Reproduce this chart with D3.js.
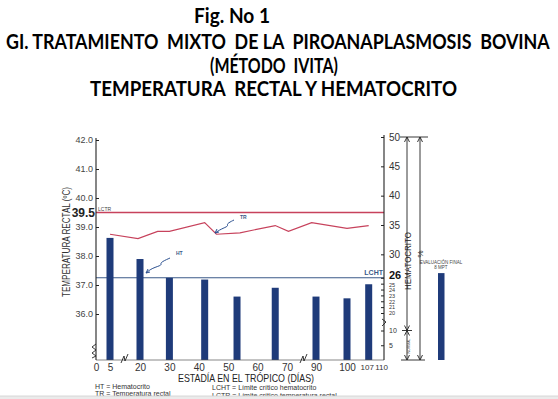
<!DOCTYPE html>
<html>
<head>
<meta charset="utf-8">
<script src="https://cdn.jsdelivr.net/npm/d3@7"></script>
<style>
  body { margin: 0; background: #fff; }
  svg text { font-family: "Liberation Sans", Arial, sans-serif; }
  .ttl { font-family: Lato, "Open Sans", sans-serif !important; font-weight: bold; fill: #000; }
</style>
</head>
<body>
<svg id="chart" width="558" height="399"></svg>
<script>
// data
var days = [5, 20, 30, 42, 53, 66, 90, 100, 107];
var hematocrito = [32.8, 29.2, 26.0, 25.7, 22.8, 24.3, 22.8, 22.5, 24.9];
var finalLabel = ["EVALUACIÓN FINAL", "8 MPT"];
var finalHt = 26.8;
var trDays = [5, 19, 26, 30, 42, 46, 54, 66, 71, 87, 100, 107];
var trValues = [38.75, 38.6, 38.85, 38.85, 39.15, 38.75, 38.8, 39.05, 38.85, 39.15, 38.95, 39.05];
var xTicks = [0, 5, 20, 30, 40, 50, 60, 70, 90, 100, 107, 110];
var tempTicks = [36, 37, 38, 39, 40, 41, 42];
var htTicks = [5, 10, 20, 21, 22, 23, 24, 25, 26, 30, 35, 40, 45, 50];
var lctr = 39.5, lcht = 26;

var svg = d3.select("#chart");

// broken axes -> piecewise linear scales
var x = d3.scaleLinear().domain([0, 5, 20, 70, 90, 110]).range([96, 110, 140, 287, 316, 378]);
var yT = d3.scaleLinear().domain([36, 42]).range([314, 140]);
var yH = d3.scaleLinear().domain([0, 10, 20, 50]).range([360, 330.5, 313, 137]);

var left = 96, right = 384, base = 360;
var navy = "#1f3b7a", red = "#c7425c";

// TITLES (squeezed horizontally to the widths of the scan)
var titles = [
  { t: "Fig. No 1", x: 194, y: 23, w: 76, s: 20 },
  { t: "GI. TRATAMIENTO  MIXTO  DE LA  PIROANAPLASMOSIS  BOVINA", x: 6, y: 49, w: 544, s: 20 },
  { t: "(MÉTODO  IVITA)", x: 210, y: 73, w: 128, s: 20 },
  { t: "TEMPERATURA  RECTAL Y HEMATOCRITO", x: 90, y: 96, w: 367, s: 20 }
];
svg.selectAll("text.ttl").data(titles).enter().append("text")
    .attr("class", "ttl")
    .attr("xml:space", "preserve")
    .style("white-space", "pre")
    .style("font-size", function (d) { return d.s + "px"; })
    .text(function (d) { return d.t; })
    .each(function (d) {
        var len = this.getComputedTextLength();
        d3.select(this).attr("transform", "translate(" + d.x + "," + d.y + ") scale(" + (d.w / len) + ",1)");
    });

// reference lines
svg.append("line")
    .attr("x1", left).attr("x2", right)
    .attr("y1", yT(lctr)).attr("y2", yT(lctr))
    .attr("stroke", red).attr("stroke-width", 1.4);

svg.append("line")
    .attr("x1", left).attr("x2", right)
    .attr("y1", yH(lcht)).attr("y2", yH(lcht))
    .attr("stroke", "#3b5a88").attr("stroke-width", 1.1);

// BARS (hematocrito)
svg.selectAll(".bar")
    .data(days)
    .enter()
    .append("rect")
    .attr("class", "bar")
    .attr("x", function (d) { return x(d) - 3.5; })
    .attr("y", function (d, i) { return yH(hematocrito[i]); })
    .attr("width", 7)
    .attr("height", function (d, i) { return base - yH(hematocrito[i]); })
    .attr("fill", navy);

var finalX = x(110) + 63;
svg.append("rect")
    .attr("x", finalX - 3)
    .attr("y", yH(finalHt))
    .attr("width", 6.5)
    .attr("height", base - yH(finalHt))
    .attr("fill", navy);

svg.selectAll(".finlab").data(finalLabel).enter().append("text")
    .attr("class", "finlab")
    .attr("x", finalX)
    .attr("y", function (d, i) { return yH(finalHt) - 9 + i * 4.5; })
    .attr("text-anchor", "middle")
    .style("font-size", "4.5px")
    .attr("fill", "#444")
    .text(function (d) { return d; });

// TR line
var trLine = d3.line()
    .x(function (d) { return x(d[0]); })
    .y(function (d) { return yT(d[1]); });

svg.append("path")
    .datum(d3.zip(trDays, trValues))
    .attr("d", trLine)
    .attr("fill", "none")
    .attr("stroke", red)
    .attr("stroke-width", 1.2);

// AXES
var gx = svg.append("g")
    .attr("transform", "translate(0," + base + ")")
    .call(d3.axisBottom(x).tickValues(xTicks).tickSize(0).tickPadding(4));
gx.select("path.domain").remove();
gx.selectAll("text")
    .attr("fill", "#333")
    .style("font-size", function (d) { return d >= 107 ? "8px" : "10px"; })
    .attr("dx", function (d) { return d == 107 ? "-2px" : (d == 110 ? "3px" : 0); });

svg.append("line")
    .attr("x1", left).attr("x2", right)
    .attr("y1", base).attr("y2", base)
    .attr("stroke", "#555").attr("stroke-width", 0.7);

var gy = svg.append("g")
    .attr("transform", "translate(" + left + ",0)")
    .call(d3.axisLeft(yT).tickValues(tempTicks).tickFormat(d3.format(".1f")).tickSizeInner(-3).tickSizeOuter(0).tickPadding(3));
gy.select("path.domain").remove();
gy.selectAll(".tick line").attr("stroke", "#222");
gy.selectAll("text").attr("fill", "#444").style("font-size", "9px");

svg.append("line")
    .attr("x1", left).attr("x2", left)
    .attr("y1", yT(42) - 2).attr("y2", base)
    .attr("stroke", "#222").attr("stroke-width", 1.1);

var gr = svg.append("g")
    .attr("transform", "translate(" + right + ",0)")
    .call(d3.axisRight(yH).tickValues(htTicks).tickSizeInner(-3).tickSizeOuter(0).tickPadding(5));
gr.select("path.domain").remove();
gr.selectAll(".tick line").attr("stroke", "#222");
gr.selectAll("text")
    .style("font-size", function (d) {
        if (d == 26) return "11px";
        if (d >= 20 && d <= 25) return "5.5px";
        if (d <= 10) return "7px";
        return "10px";
    })
    .style("font-weight", function (d) { return d == 26 ? "bold" : "normal"; })
    .attr("fill", function (d) { return d == 26 ? "#111" : "#333"; })
    .attr("dy", function (d) { return d == 26 ? "0.1em" : (d == 25 ? "0.55em" : "0.32em"); });

svg.append("line")
    .attr("x1", right).attr("x2", right)
    .attr("y1", yH(50) - 2).attr("y2", base)
    .attr("stroke", "#222").attr("stroke-width", 1.1);

// axis breaks
var brk = d3.line();
[124, 303].forEach(function (bx) {
    svg.append("path")
        .attr("d", brk([[bx - 3, base + 3], [bx, base - 4], [bx + 1, base + 1], [bx + 4, base - 6]]))
        .attr("fill", "none").attr("stroke", "#222").attr("stroke-width", 0.9);
});
svg.append("path")
    .attr("d", brk([[left, 344], [left - 4, 347], [left, 350], [left - 4, 353], [left, 356], [left - 4, 358]]))
    .attr("fill", "none").attr("stroke", "#222").attr("stroke-width", 0.9);
svg.append("path")
    .attr("d", brk([[right - 2, 326], [right + 2, 322], [right - 2, 319]]))
    .attr("fill", "none").attr("stroke", "#222").attr("stroke-width", 0.9);

// LABELS
svg.append("text")
    .attr("x", left - 1).attr("y", yT(lctr) + 4.5)
    .attr("text-anchor", "end")
    .style("font-size", "12px").style("font-weight", "bold")
    .attr("fill", "#222")
    .text("39.5");

svg.append("text")
    .attr("x", left + 2).attr("y", yT(lctr) - 2)
    .style("font-size", "5px").attr("fill", "#444")
    .text("LCTR");

svg.append("text")
    .attr("x", right - 1).attr("y", yH(lcht) - 2.5)
    .attr("text-anchor", "end")
    .style("font-size", "7px").style("font-weight", "bold")
    .attr("fill", "#3b5a88")
    .text("LCHT");

svg.append("text")
    .attr("transform", "translate(70,242) rotate(-90)")
    .attr("text-anchor", "middle")
    .attr("textLength", 110).attr("lengthAdjust", "spacingAndGlyphs")
    .style("font-size", "10px").attr("fill", "#333")
    .text("TEMPERATURA RECTAL (ºC)");

svg.append("text")
    .attr("x", 246).attr("y", 382)
    .attr("text-anchor", "middle")
    .attr("textLength", 136).attr("lengthAdjust", "spacingAndGlyphs")
    .style("font-size", "10.5px").attr("fill", "#222")
    .text("ESTADÍA EN EL TRÓPICO  (DÍAS)");

// TR / HT callouts
svg.append("text").attr("x", 240).attr("y", 219)
    .style("font-size", "5px").style("font-weight", "bold").attr("fill", "#3b5a88").text("TR");
svg.append("text").attr("x", 176).attr("y", 255)
    .style("font-size", "5px").style("font-weight", "bold").attr("fill", "#3b5a88").text("HT");

var squig = d3.line().curve(d3.curveBasis);
[[[234, 220], [226, 224], [229, 226], [221, 229], [215, 233]],
 [[170, 258], [159, 263], [163, 265], [152, 268], [146, 273]]].forEach(function (pts) {
    svg.append("path")
        .attr("d", squig(pts))
        .attr("fill", "none").attr("stroke", "#2a4f8f").attr("stroke-width", 1);
    var p = pts[pts.length - 1];
    svg.append("path")
        .attr("d", d3.line()([[p[0] + 4, p[1] - 1], p, [p[0] + 2, p[1] - 4]]))
        .attr("fill", "none").attr("stroke", "#2a4f8f").attr("stroke-width", 1);
});

// hematocrito bracket at the right
var bx1 = 407, bx2 = 420;
var bracket = svg.append("g").attr("stroke", "#222").attr("stroke-width", 0.9).attr("fill", "none");
bracket.append("line").attr("x1", 400).attr("x2", 428).attr("y1", yH(50)).attr("y2", yH(50));
bracket.append("line").attr("x1", 401).attr("x2", 425).attr("y1", base).attr("y2", base);
bracket.append("line").attr("x1", bx1).attr("x2", bx1).attr("y1", yH(50)).attr("y2", base);
bracket.append("line").attr("x1", bx2).attr("x2", bx2).attr("y1", yH(50)).attr("y2", base);
bracket.append("line").attr("x1", 402).attr("x2", 412).attr("y1", yH(10)).attr("y2", yH(10));
function arrow(ax, ay, dir) {
    bracket.append("path").attr("d", d3.line()([[ax - 2.5, ay + 5 * dir], [ax, ay], [ax + 2.5, ay + 5 * dir]]));
}
arrow(bx1, yH(50), 1); arrow(bx2, yH(50), 1);
arrow(bx1, base, -1); arrow(bx2, base, -1);
arrow(bx1, yH(10), -1); arrow(bx1, yH(10), 1);

svg.append("text")
    .attr("transform", "translate(" + (bx1 + 4) + ",261) rotate(-90)")
    .attr("text-anchor", "middle")
    .attr("textLength", 58).attr("lengthAdjust", "spacingAndGlyphs")
    .style("font-size", "9px").attr("fill", "#222")
    .text("HEMATOCRITO");
svg.append("text")
    .attr("transform", "translate(" + (bx2 + 3) + ",254) rotate(-90)")
    .attr("text-anchor", "middle")
    .style("font-size", "8px").attr("fill", "#222")
    .text("%");
svg.append("text")
    .attr("transform", "translate(" + (bx1 + 3) + ",346) rotate(-90)")
    .attr("text-anchor", "middle")
    .style("font-size", "3.5px").attr("fill", "#444")
    .text("NORMAL");

// legend
var legend = [
  { t: "HT = Hematocrito", x: 95, y: 389 },
  { t: "TR = Temperatura rectal", x: 95, y: 396 },
  { t: "LCHT = Límite crítico hematocrito", x: 212, y: 390 },
  { t: "LCTR = Límite crítico temperatura rectal", x: 212, y: 397.5 }
];
svg.selectAll("text.leg").data(legend).enter().append("text")
    .attr("class", "leg")
    .attr("x", function (d) { return d.x; })
    .attr("y", function (d) { return d.y; })
    .style("font-size", "7px").attr("fill", "#333")
    .text(function (d) { return d.t; });

// grey strip of the scan at the bottom
svg.append("rect").attr("x", 0).attr("y", 396).attr("width", 558).attr("height", 3).attr("fill", "#ebebeb");
svg.append("line").attr("x1", 0).attr("x2", 558).attr("y1", 396).attr("y2", 396).attr("stroke", "#cfcfcf").attr("stroke-width", 0.8);
</script>
</body>
</html>
